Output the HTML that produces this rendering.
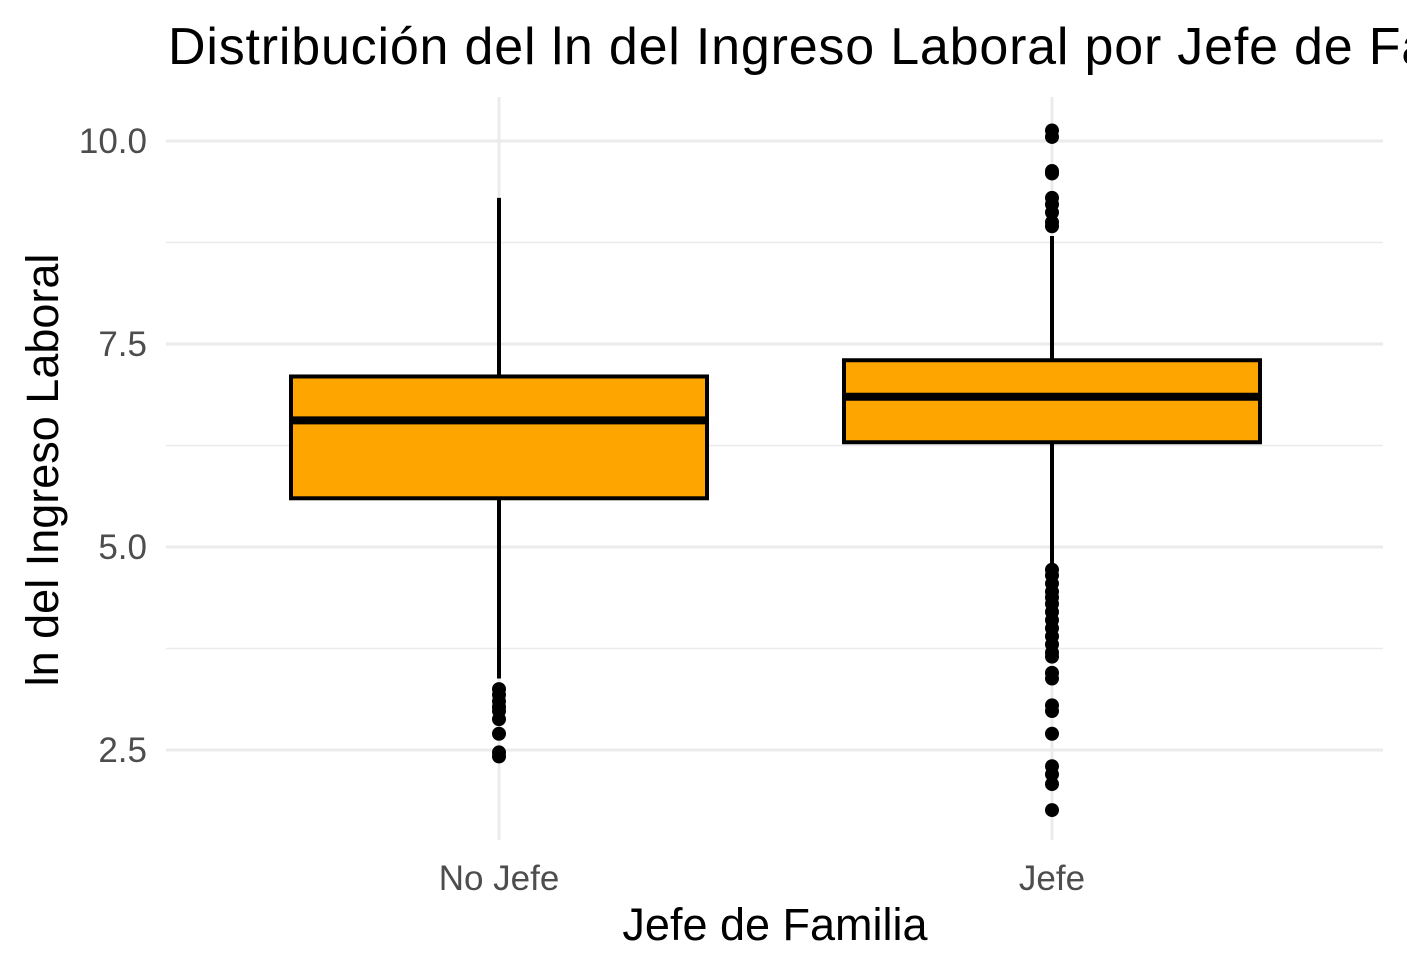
<!DOCTYPE html>
<html><head><meta charset="utf-8"><style>
body{margin:0;background:#fff;}
svg{font-family:"Liberation Sans",Arial,sans-serif;}
</style></head><body>
<svg id="chart" width="1407" height="972" xmlns="http://www.w3.org/2000/svg">
<text x="168" y="64" font-size="52" letter-spacing="0.8" fill="#000">Distribución del ln del Ingreso Laboral por Jefe de Familia</text>
<text x="775" y="940" font-size="45" text-anchor="middle" fill="#000">Jefe de Familia</text>
<text transform="translate(58,470) rotate(-90)" font-size="45" text-anchor="middle" fill="#000">ln del Ingreso Laboral</text>
<g id="grid"></g><g id="marks"></g><g id="ticks"></g>
</svg>
<script>
const categories=["No Jefe","Jefe"];
const q1=[5.6,6.29];
const medians=[6.56,6.85];
const q3=[7.1,7.3];
const whiskLo=[3.38,4.8];
const whiskHi=[9.3,8.83];
const outliersNoJefe=[2.42,2.47,2.7,2.88,2.98,3.03,3.1,3.18,3.25];
const outliersJefe=[10.13,10.05,9.63,9.6,9.3,9.22,9.12,9.0,8.95,4.72,4.65,4.55,4.45,4.38,4.3,4.2,4.1,4.0,3.9,3.8,3.7,3.65,3.45,3.38,3.05,2.98,2.7,2.3,2.2,2.08,1.76];
const majorTicks=[2.5,5.0,7.5,10.0];
const tickLabels=["2.5","5.0","7.5","10.0"];
const minorTicks=[3.75,6.25,8.75];
const NS="http://www.w3.org/2000/svg";
const y=v=>141+(10-v)*81.2;
const x=i=>499+i*553;
const L=166,R=1383,T=97,B=840;
function mk(t,a,p){const e=document.createElementNS(NS,t);for(const k in a)e.setAttribute(k,a[k]);p.appendChild(e);return e;}
const g=document.getElementById('grid'),m=document.getElementById('marks'),tk=document.getElementById('ticks');
minorTicks.forEach(v=>{const l=mk('line',{x1:L,x2:R,y1:y(v),y2:y(v),stroke:'#ebebeb','stroke-width':1.5},g);

});
majorTicks.forEach((v,i)=>{const l=mk('line',{x1:L,x2:R,y1:y(v),y2:y(v),stroke:'#ebebeb','stroke-width':3},g);


const t=mk('text',{x:147,y:y(v)+12,'font-size':35,fill:'#4d4d4d','text-anchor':'end'},tk);t.textContent=tickLabels[i];

});
categories.forEach((c,i)=>{const l=mk('line',{x1:x(i),x2:x(i),y1:T,y2:B,stroke:'#ebebeb','stroke-width':3},g);


const t=mk('text',{x:x(i),y:890,'font-size':35,fill:'#4d4d4d','text-anchor':'middle'},tk);t.textContent=c;


const w=mk('line',{x1:x(i),x2:x(i),y1:y(whiskHi[i]),y2:y(whiskLo[i]),stroke:'#000','stroke-width':4},m);


const b=mk('rect',{x:x(i)-208,width:416,y:y(q3[i]),height:y(q1[i])-y(q3[i]),fill:'#FFA500',stroke:'#000','stroke-width':4},m);


const md=mk('line',{x1:x(i)-208,x2:x(i)+208,y1:y(medians[i]),y2:y(medians[i]),stroke:'#000','stroke-width':8},m);


(i==0?outliersNoJefe:outliersJefe).forEach(v=>{const p=mk('circle',{cx:x(i),cy:y(v),r:7,fill:'#000'},m);

});
});
</script>
</body></html>
